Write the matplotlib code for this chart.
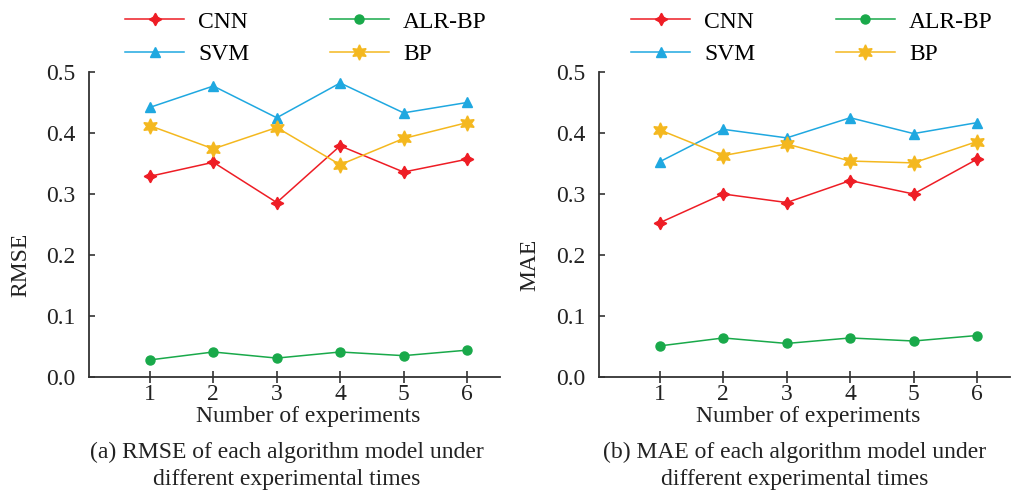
import matplotlib
matplotlib.use("Agg")
import matplotlib.pyplot as plt

plt.rcParams['font.family'] = ['Liberation Serif', 'DejaVu Serif']

experiments = [1, 2, 3, 4, 5, 6]
series_names = ["CNN", "SVM", "ALR-BP", "BP"]

rmse_cnn = [0.329, 0.352, 0.286, 0.379, 0.336, 0.357]
rmse_svm = [0.442, 0.477, 0.425, 0.482, 0.433, 0.450]
rmse_alr = [0.028, 0.041, 0.031, 0.041, 0.035, 0.044]
rmse_bp = [0.412, 0.374, 0.409, 0.348, 0.391, 0.417]

mae_cnn = [0.253, 0.300, 0.286, 0.322, 0.300, 0.357]
mae_svm = [0.353, 0.406, 0.392, 0.425, 0.399, 0.417]
mae_alr = [0.051, 0.064, 0.055, 0.064, 0.059, 0.068]
mae_bp = [0.405, 0.363, 0.382, 0.354, 0.351, 0.386]

y_ticks = [0.0, 0.1, 0.2, 0.3, 0.4, 0.5]
y_ticklabels = ["0.0", "0.1", "0.2", "0.3", "0.4", "0.5"]

styles = {
    "CNN": dict(color="#ee1d25", marker=(4, 1, 0), markersize=9),
    "SVM": dict(color="#1fa8e0", marker="^", markersize=7),
    "ALR-BP": dict(color="#19a94a", marker="o", markersize=6.5),
    "BP": dict(color="#f4b81f", marker=(6, 1, 0), markersize=11),
}

fig = plt.figure(figsize=(10.24, 4.9), dpi=100)

panels = [
    dict(rect=[89/1024, 113/490, 411/1024, 305/490], ylabel="RMSE",
         data={"CNN": rmse_cnn, "SVM": rmse_svm, "ALR-BP": rmse_alr, "BP": rmse_bp},
         caption="(a) RMSE of each algorithm model under\ndifferent experimental times",
         xlabel_x=308/1024, cap_x=287/1024, ylabel_x=21/1024, leg_x=306/1024),
    dict(rect=[599/1024, 113/490, 411/1024, 305/490], ylabel="MAE",
         data={"CNN": mae_cnn, "SVM": mae_svm, "ALR-BP": mae_alr, "BP": mae_bp},
         caption="(b) MAE of each algorithm model under\ndifferent experimental times",
         xlabel_x=808/1024, cap_x=795/1024, ylabel_x=530/1024, leg_x=812/1024),
]

fs = 17
for p in panels:
    ax = fig.add_axes(p["rect"])
    handles = {}
    for name in series_names:
        st = styles[name]
        h, = ax.plot(experiments, p["data"][name], color=st["color"], lw=1.1,
                     marker=st["marker"], markersize=st["markersize"],
                     markerfacecolor=st["color"], markeredgecolor=st["color"],
                     label=name)
        handles[name] = h
    ax.set_xlim(0.04, 6.52)
    ax.set_ylim(0, 0.5)
    ax.set_yticks(y_ticks)
    ax.set_yticklabels(y_ticklabels)
    ax.set_xticks(experiments)
    ax.spines['top'].set_visible(False)
    ax.spines['right'].set_visible(False)
    for s in ['left', 'bottom']:
        ax.spines[s].set_color('#333333')
        ax.spines[s].set_linewidth(1.3)
    ax.tick_params(axis='y', direction='in', length=4, width=1.2, pad=10,
                   labelsize=fs, colors='#333333', labelcolor='#222222')
    ax.tick_params(axis='x', direction='inout', length=8, width=1.2, pad=1,
                   labelsize=fs, colors='#333333', labelcolor='#222222')
    fig.text(p["xlabel_x"], 74/490, "Number of experiments", ha='center',
             va='center', fontsize=fs, color='#222222')
    fig.text(p["cap_x"], 24/490, p["caption"], ha='center', va='center',
             fontsize=fs, color='#222222', linespacing=1.4)
    fig.text(p["ylabel_x"], 225/490, p["ylabel"], rotation=90, ha='center',
             va='center', fontsize=fs, color='#222222')
    ax.legend([handles[n] for n in series_names], series_names, ncol=2,
              frameon=False, fontsize=fs, handlelength=2.5, columnspacing=3.4,
              labelspacing=0.45, handletextpad=0.6, loc='center',
              bbox_to_anchor=(p["leg_x"], 452/490), bbox_transform=fig.transFigure)

fig.savefig("out.png", dpi=100)
